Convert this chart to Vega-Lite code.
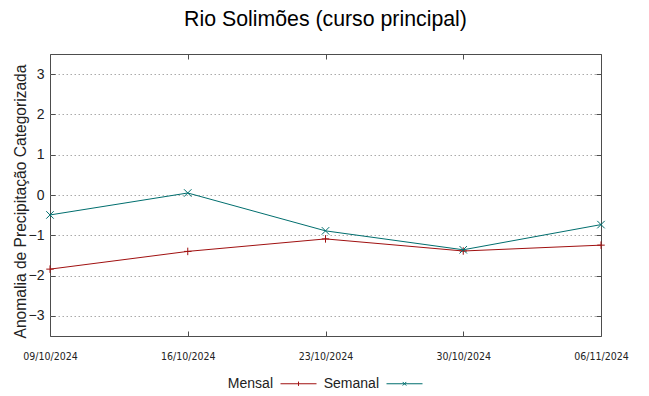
{
  "$schema": "https://vega.github.io/schema/vega-lite/v6.json",
  "width": 551,
  "height": 282,
  "autosize": {"type": "none"},
  "padding": {"left": 50, "top": 54, "right": 48, "bottom": 60},
  "background": "white",
  "title": {"text": "Rio Solimões (curso principal)", "font": "Liberation Sans", "fontSize": 21.3, "fontWeight": "normal", "color": "#000000", "anchor": "middle", "offset": 23},
  "config": {
    "view": {"stroke": "#4d4d4d", "strokeWidth": 1},
    "axis": {"domain": false, "tickColor": "#4d4d4d", "tickSize": -5, "tickWidth": 1, "labelColor": "#222222", "titleColor": "#222222", "titleFontWeight": "normal"}
  },
  "data": {"values": [
    {"date": "09/10/2024", "series": "Mensal", "value": -1.84},
    {"date": "16/10/2024", "series": "Mensal", "value": -1.40},
    {"date": "23/10/2024", "series": "Mensal", "value": -1.09},
    {"date": "30/10/2024", "series": "Mensal", "value": -1.39},
    {"date": "06/11/2024", "series": "Mensal", "value": -1.245},
    {"date": "09/10/2024", "series": "Semanal", "value": -0.495},
    {"date": "16/10/2024", "series": "Semanal", "value": 0.05},
    {"date": "23/10/2024", "series": "Semanal", "value": -0.89},
    {"date": "30/10/2024", "series": "Semanal", "value": -1.36},
    {"date": "06/11/2024", "series": "Semanal", "value": -0.735}
  ]},
  "resolve": {"axis": {"x": "independent", "y": "independent"}},
  "layer": [
    {
      "mark": {"type": "line", "strokeWidth": 1},
      "encoding": {
        "x": {"field": "date", "type": "ordinal", "sort": null, "scale": {"type": "point", "padding": 0},
              "axis": {"title": null, "labelAngle": 0, "labelFont": "DejaVu Sans Condensed, Liberation Sans", "labelFontSize": 10.5, "labelPadding": 20.5, "grid": false}},
        "y": {"field": "value", "type": "quantitative", "scale": {"domain": [-3.5, 3.5], "nice": false, "zero": false},
              "axis": {"values": [-3, -2, -1, 0, 1, 2, 3], "title": "Anomalia de Precipitação Categorizada", "titleFont": "Liberation Sans", "titleFontSize": 15.6, "titlePadding": 0, "titleY": 147,
                       "labelFont": "Liberation Sans", "labelFontSize": 14, "labelPadding": 11, "grid": true, "gridColor": "#aaaaaa", "gridDash": [1.5, 2.5], "gridWidth": 1}},
        "color": {"field": "series", "type": "nominal", "scale": {"domain": ["Mensal", "Semanal"], "range": ["#a01010", "#006e6e"]},
                  "legend": {"title": null, "orient": "none", "legendX": 230, "legendY": 311, "direction": "horizontal",
                             "labelFont": "Liberation Sans", "labelFontSize": 14, "labelColor": "#222222", "labelAlign": "right", "labelOffset": -44,
                             "symbolSize": 1296, "symbolStrokeWidth": 1, "columnPadding": 4,
                             "encode": {"symbols": {"update": {"shape": {"signal": "datum.value === 'Mensal' ? 'M-1,0L1,0M0,-0.12L0,0.12' : 'M-1,0L1,0M-0.1,-0.1L0.1,0.1M-0.1,0.1L0.1,-0.1'"}, "fill": {"value": "transparent"}}}}}}
      }
    },
    {
      "mark": {"type": "point", "filled": false, "strokeWidth": 1, "size": 56, "opacity": 1},
      "encoding": {
        "x": {"field": "date", "type": "ordinal", "sort": null, "axis": null},
        "y": {"field": "value", "type": "quantitative", "axis": null},
        "color": {"field": "series", "type": "nominal", "legend": null},
        "shape": {"condition": {"test": "datum.series === 'Mensal'", "value": "M-1,0L1,0M0,-1L0,1"}, "value": "M-1,-1L1,1M-1,1L1,-1"}
      }
    },
    {
      "mark": {"type": "line", "strokeOpacity": 0},
      "encoding": {
        "x": {"field": "date", "type": "ordinal", "sort": null, "axis": {"orient": "top", "labels": false, "title": null, "grid": false}},
        "y": {"field": "value", "type": "quantitative", "axis": {"orient": "right", "values": [-3, -2, -1, 0, 1, 2, 3], "labels": false, "title": null, "grid": false}},
        "detail": {"field": "series"}
      }
    }
  ]
}
